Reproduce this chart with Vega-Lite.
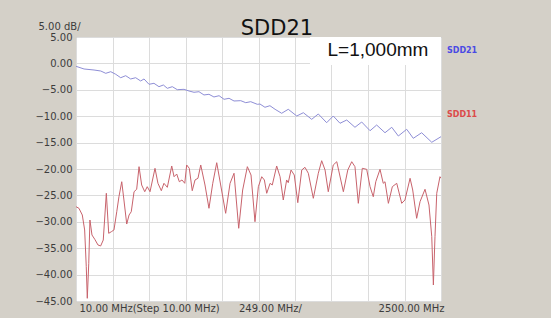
{
  "$schema": "https://vega.github.io/schema/vega-lite/v6.json",
  "autosize": "none",
  "width": 365,
  "height": 264,
  "padding": {"left": 76, "top": 37, "right": 110, "bottom": 17},
  "background": "#d4d0c8",
  "config": {
    "view": {"fill": "white", "stroke": "#9a9a9a", "strokeWidth": 1},
    "font": "DejaVu Sans",
    "axis": {"labelOverlap": false, "labelFlush": false, "ticks": false, "domain": false, "gridColor": "#dcdcdc", "labelColor": "#3c3c3c", "labelFont": "DejaVu Sans", "labelFontSize": 10, "tickCount": 30}
  },
  "datasets": {
    "curves": [
      {"series":"SDD21","freq":10,"db":-0.55},{"series":"SDD21","freq":65,"db":-1.06},{"series":"SDD21","freq":133,"db":-1.25},{"series":"SDD21","freq":179,"db":-1.44},{"series":"SDD21","freq":213,"db":-1.88},{"series":"SDD21","freq":247,"db":-1.57},{"series":"SDD21","freq":281,"db":-2.06},{"series":"SDD21","freq":315,"db":-2.71},{"series":"SDD21","freq":349,"db":-2.33},{"series":"SDD21","freq":383,"db":-2.95},{"series":"SDD21","freq":417,"db":-2.71},{"series":"SDD21","freq":451,"db":-3.33},{"series":"SDD21","freq":474,"db":-2.95},{"series":"SDD21","freq":508,"db":-3.96},{"series":"SDD21","freq":542,"db":-3.77},{"series":"SDD21","freq":576,"db":-4.41},{"series":"SDD21","freq":606,"db":-4.09},{"series":"SDD21","freq":633,"db":-4.72},{"series":"SDD21","freq":667,"db":-4.41},{"series":"SDD21","freq":701,"db":-4.98},{"series":"SDD21","freq":747,"db":-4.91},{"series":"SDD21","freq":781,"db":-5.23},{"series":"SDD21","freq":815,"db":-5.47},{"series":"SDD21","freq":849,"db":-5.36},{"series":"SDD21","freq":883,"db":-5.98},{"series":"SDD21","freq":917,"db":-5.85},{"series":"SDD21","freq":951,"db":-6.36},{"series":"SDD21","freq":986,"db":-6.12},{"series":"SDD21","freq":1020,"db":-6.8},{"series":"SDD21","freq":1054,"db":-6.61},{"series":"SDD21","freq":1088,"db":-7.12},{"series":"SDD21","freq":1134,"db":-7.06},{"series":"SDD21","freq":1168,"db":-7.44},{"series":"SDD21","freq":1202,"db":-7.25},{"series":"SDD21","freq":1247,"db":-7.75},{"series":"SDD21","freq":1265,"db":-7.69},{"series":"SDD21","freq":1299,"db":-8.31},{"series":"SDD21","freq":1333,"db":-8.01},{"series":"SDD21","freq":1368,"db":-8.69},{"series":"SDD21","freq":1413,"db":-9.45},{"series":"SDD21","freq":1458,"db":-8.69},{"series":"SDD21","freq":1516,"db":-9.96},{"series":"SDD21","freq":1561,"db":-9.34},{"series":"SDD21","freq":1618,"db":-10.59},{"series":"SDD21","freq":1663,"db":-9.58},{"series":"SDD21","freq":1720,"db":-11.23},{"series":"SDD21","freq":1765,"db":-9.96},{"series":"SDD21","freq":1811,"db":-11.34},{"series":"SDD21","freq":1857,"db":-10.72},{"series":"SDD21","freq":1913,"db":-12.1},{"series":"SDD21","freq":1959,"db":-11.1},{"series":"SDD21","freq":2016,"db":-12.75},{"series":"SDD21","freq":2061,"db":-11.67},{"series":"SDD21","freq":2118,"db":-13.13},{"series":"SDD21","freq":2164,"db":-12.1},{"series":"SDD21","freq":2209,"db":-13.75},{"series":"SDD21","freq":2266,"db":-12.48},{"series":"SDD21","freq":2311,"db":-14.19},{"series":"SDD21","freq":2368,"db":-13.13},{"series":"SDD21","freq":2437,"db":-14.94},{"series":"SDD21","freq":2500,"db":-13.88},
      {"series":"SDD11","freq":10,"db":-27.14},{"series":"SDD11","freq":30,"db":-27.44},{"series":"SDD11","freq":53,"db":-28.71},{"series":"SDD11","freq":69,"db":-31.55},{"series":"SDD11","freq":80,"db":-38.45},{"series":"SDD11","freq":87,"db":-44.49},{"series":"SDD11","freq":97,"db":-37.86},{"series":"SDD11","freq":105,"db":-29.66},{"series":"SDD11","freq":119,"db":-32.5},{"series":"SDD11","freq":138,"db":-33.31},{"series":"SDD11","freq":160,"db":-34.39},{"series":"SDD11","freq":178,"db":-34.58},{"series":"SDD11","freq":196,"db":-33.45},{"series":"SDD11","freq":217,"db":-24.6},{"series":"SDD11","freq":233,"db":-32.18},{"series":"SDD11","freq":251,"db":-31.88},{"series":"SDD11","freq":269,"db":-31.55},{"series":"SDD11","freq":288,"db":-28.09},{"series":"SDD11","freq":303,"db":-25.25},{"series":"SDD11","freq":322,"db":-22.41},{"series":"SDD11","freq":337,"db":-25.87},{"series":"SDD11","freq":356,"db":-30.42},{"series":"SDD11","freq":372,"db":-28.71},{"series":"SDD11","freq":387,"db":-28.09},{"series":"SDD11","freq":406,"db":-24.3},{"series":"SDD11","freq":424,"db":-23.84},{"series":"SDD11","freq":440,"db":-19.56},{"series":"SDD11","freq":458,"db":-23.03},{"series":"SDD11","freq":479,"db":-24.3},{"series":"SDD11","freq":496,"db":-23.35},{"series":"SDD11","freq":515,"db":-24.3},{"series":"SDD11","freq":549,"db":-19.87},{"series":"SDD11","freq":569,"db":-22.71},{"series":"SDD11","freq":592,"db":-24.11},{"series":"SDD11","freq":610,"db":-22.71},{"series":"SDD11","freq":633,"db":-23.47},{"series":"SDD11","freq":663,"db":-19.43},{"series":"SDD11","freq":679,"db":-21.46},{"series":"SDD11","freq":697,"db":-20.95},{"series":"SDD11","freq":715,"db":-22.41},{"series":"SDD11","freq":733,"db":-22.08},{"series":"SDD11","freq":752,"db":-22.71},{"series":"SDD11","freq":765,"db":-19.24},{"series":"SDD11","freq":783,"db":-19.87},{"series":"SDD11","freq":803,"db":-24.11},{"series":"SDD11","freq":822,"db":-22.08},{"series":"SDD11","freq":842,"db":-21.76},{"series":"SDD11","freq":861,"db":-19.24},{"series":"SDD11","freq":890,"db":-23.03},{"series":"SDD11","freq":917,"db":-27.44},{"series":"SDD11","freq":943,"db":-22.71},{"series":"SDD11","freq":970,"db":-18.81},{"series":"SDD11","freq":997,"db":-23.03},{"series":"SDD11","freq":1031,"db":-28.39},{"series":"SDD11","freq":1061,"db":-22.71},{"series":"SDD11","freq":1088,"db":-20.81},{"series":"SDD11","freq":1120,"db":-31.23},{"series":"SDD11","freq":1147,"db":-23.98},{"series":"SDD11","freq":1179,"db":-19.56},{"series":"SDD11","freq":1204,"db":-21.14},{"series":"SDD11","freq":1231,"db":-29.98},{"series":"SDD11","freq":1254,"db":-23.35},{"series":"SDD11","freq":1277,"db":-21.46},{"series":"SDD11","freq":1295,"db":-22.08},{"series":"SDD11","freq":1311,"db":-24.6},{"series":"SDD11","freq":1334,"db":-22.71},{"series":"SDD11","freq":1349,"db":-23.03},{"series":"SDD11","freq":1379,"db":-19.43},{"series":"SDD11","freq":1402,"db":-21.46},{"series":"SDD11","freq":1424,"db":-25.87},{"series":"SDD11","freq":1447,"db":-22.08},{"series":"SDD11","freq":1458,"db":-22.59},{"series":"SDD11","freq":1477,"db":-20.19},{"series":"SDD11","freq":1499,"db":-21.14},{"series":"SDD11","freq":1523,"db":-26.38},{"series":"SDD11","freq":1550,"db":-20.19},{"series":"SDD11","freq":1572,"db":-19.68},{"series":"SDD11","freq":1595,"db":-20.81},{"series":"SDD11","freq":1629,"db":-25.55},{"series":"SDD11","freq":1663,"db":-20.81},{"series":"SDD11","freq":1686,"db":-18.43},{"series":"SDD11","freq":1709,"db":-20.19},{"series":"SDD11","freq":1731,"db":-24.3},{"series":"SDD11","freq":1765,"db":-19.24},{"series":"SDD11","freq":1789,"db":-18.62},{"series":"SDD11","freq":1834,"db":-24.3},{"series":"SDD11","freq":1864,"db":-20.19},{"series":"SDD11","freq":1891,"db":-18.62},{"series":"SDD11","freq":1913,"db":-19.56},{"series":"SDD11","freq":1936,"db":-26.5},{"series":"SDD11","freq":1963,"db":-19.87},{"series":"SDD11","freq":1993,"db":-20.06},{"series":"SDD11","freq":2016,"db":-23.35},{"series":"SDD11","freq":2038,"db":-25.25},{"series":"SDD11","freq":2055,"db":-22.41},{"series":"SDD11","freq":2084,"db":-20.06},{"series":"SDD11","freq":2106,"db":-22.71},{"series":"SDD11","freq":2118,"db":-22.41},{"series":"SDD11","freq":2141,"db":-26.5},{"series":"SDD11","freq":2168,"db":-23.35},{"series":"SDD11","freq":2198,"db":-22.71},{"series":"SDD11","freq":2232,"db":-26.5},{"series":"SDD11","freq":2254,"db":-25.87},{"series":"SDD11","freq":2289,"db":-21.76},{"series":"SDD11","freq":2307,"db":-23.98},{"series":"SDD11","freq":2334,"db":-29.34},{"series":"SDD11","freq":2357,"db":-26.19},{"series":"SDD11","freq":2391,"db":-23.84},{"series":"SDD11","freq":2418,"db":-26.82},{"series":"SDD11","freq":2437,"db":-32.82},{"series":"SDD11","freq":2448,"db":-41.97},{"series":"SDD11","freq":2459,"db":-32.82},{"series":"SDD11","freq":2471,"db":-24.6},{"series":"SDD11","freq":2493,"db":-21.46},{"series":"SDD11","freq":2500,"db":-21.76}
    ],
    "legendLabels": [
      {"series": "SDD21", "freq": 2500, "db": 2.35},
      {"series": "SDD11", "freq": 2500, "db": -9.77}
    ],
    "note": [
      {"label": "L=1,000mm", "freq": 2070, "db": 2.5, "fromFreq": 1606, "toFreq": 2500, "top": 5, "bottom": -0.3}
    ],
    "heading": [
      {"label": "SDD21", "freq": 1381, "db": 5.38}
    ]
  },
  "layer": [
    {
      "data": {"name": "curves"},
      "mark": {"type": "line", "strokeWidth": 1, "clip": true},
      "encoding": {
        "x": {
          "field": "freq", "type": "quantitative",
          "scale": {"domain": [10, 2500], "nice": false, "zero": false},
          "axis": {
            "values": [10, 259, 508, 757, 1006, 1255, 1504, 1753, 2002, 2251, 2500],
            "tickCount": 30,
            "title": null,
            "grid": true,
            "gridColor": "#dcdcdc",
            "gridWidth": 1,
            "ticks": false,
            "domain": false,
            "labelFont": "DejaVu Sans",
            "labelFontSize": 10,
            "labelColor": "#3c3c3c",
            "labelBaseline": "top",
            "labelPadding": 2,
            "labelFlush": false,
            "labelOverlap": false,
            "labelBound": false,
            "labelExpr": "datum.value == 10 ? '10.00 MHz(Step 10.00 MHz)' : datum.value == 1255 ? '249.00 MHz/' : datum.value == 2500 ? '2500.00 MHz' : ''",
            "labelAlign": {"condition": {"test": "datum.value == 2500", "value": "right"}, "value": "left"},
            "labelOffset": {"condition": {"test": "datum.value == 1255", "value": -20}, "value": 3}
          }
        },
        "y": {
          "field": "db", "type": "quantitative",
          "scale": {"domain": [-45, 5], "nice": false, "zero": false},
          "axis": {
            "values": [5, 0, -5, -10, -15, -20, -25, -30, -35, -40, -45],
            "tickCount": 30,
            "format": ".2f",
            "title": "5.00 dB/",
            "titleAngle": 0,
            "titleAlign": "left",
            "titleBaseline": "middle",
            "titleX": -38,
            "titleY": -11,
            "titleFont": "DejaVu Sans",
            "titleFontSize": 10,
            "titleFontWeight": "normal",
            "titleColor": "#3c3c3c",
            "grid": true,
            "gridColor": "#dcdcdc",
            "ticks": false,
            "domain": false,
            "labelFont": "DejaVu Sans",
            "labelFontSize": 10,
            "labelColor": "#3c3c3c",
            "labelPadding": 4,
            "labelOverlap": false
          }
        },
        "color": {
          "field": "series", "type": "nominal",
          "scale": {"domain": ["SDD21", "SDD11"], "range": ["#8e8ed6", "#c8636c"]},
          "legend": null
        },
        "detail": {"field": "series"}
      }
    },
    {
      "data": {"name": "note"},
      "mark": {"type": "rect", "fill": "white", "stroke": null},
      "encoding": {
        "x": {"field": "fromFreq", "type": "quantitative"},
        "x2": {"field": "toFreq"},
        "y": {"field": "top", "type": "quantitative"},
        "y2": {"field": "bottom"}
      }
    },
    {
      "data": {"name": "note"},
      "mark": {"type": "text", "font": "Liberation Sans", "fontSize": 19, "color": "#111111", "align": "center", "baseline": "middle"},
      "encoding": {
        "x": {"field": "freq", "type": "quantitative"},
        "y": {"field": "db", "type": "quantitative"},
        "text": {"field": "label"}
      }
    },
    {
      "data": {"name": "heading"},
      "mark": {"type": "text", "font": "DejaVu Sans", "fontSize": 21, "color": "#111111", "align": "center", "baseline": "alphabetic", "clip": false},
      "encoding": {
        "x": {"field": "freq", "type": "quantitative"},
        "y": {"field": "db", "type": "quantitative"},
        "text": {"field": "label"}
      }
    },
    {
      "data": {"name": "legendLabels"},
      "mark": {"type": "text", "font": "DejaVu Sans", "fontSize": 8, "fontWeight": "bold", "align": "left", "baseline": "middle", "dx": 6, "clip": false},
      "encoding": {
        "x": {"field": "freq", "type": "quantitative"},
        "y": {"field": "db", "type": "quantitative"},
        "text": {"field": "series"},
        "color": {
          "field": "series", "type": "nominal",
          "scale": {"domain": ["SDD21", "SDD11"], "range": ["#4a4ae4", "#dc4a4a"]},
          "legend": null
        }
      }
    }
  ],
  "resolve": {"scale": {"color": "independent"}}
}
